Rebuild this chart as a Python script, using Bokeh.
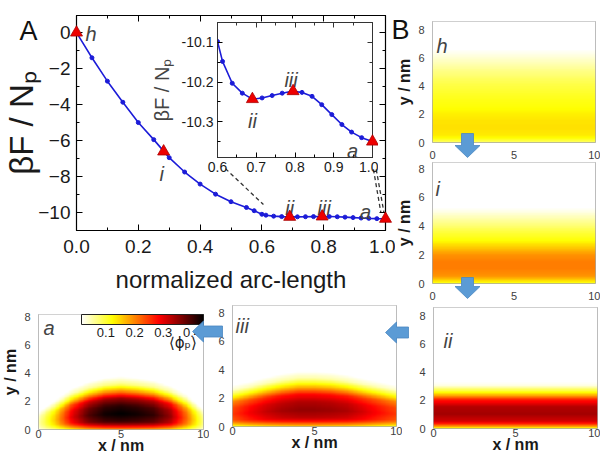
import numpy as np
from bokeh.plotting import figure
from bokeh.models import (Range1d, LinearAxis, FixedTicker, Label, ColorBar,
                          LinearColorMapper, PrintfTickFormatter)
from bokeh.embed import file_html
from bokeh.resources import INLINE

FONT = "Liberation Sans"

# ---------------- free-energy path (panel A) ----------------
arc = [0.0, 0.05, 0.1, 0.15, 0.2, 0.25, 0.3, 0.35, 0.4, 0.45, 0.5, 0.55, 0.575,
       0.6, 0.613, 0.638, 0.664, 0.69, 0.715, 0.741, 0.767, 0.792, 0.818, 0.844,
       0.869, 0.895, 0.921, 0.946, 0.972, 1.0]
free_energy = [0.0, -1.4, -2.7, -3.87, -5.0, -5.95, -6.95, -7.75, -8.42, -8.98,
               -9.4, -9.72, -9.9, -10.098, -10.148, -10.203, -10.228, -10.243,
               -10.24, -10.234, -10.228, -10.223, -10.226, -10.236, -10.257,
               -10.282, -10.307, -10.326, -10.34, -10.35]
state_names = ["h", "i", "ii", "iii", "a"]
state_arc = [0.0, 0.282, 0.69, 0.795, 1.0]
state_F = [0.0, -6.61, -10.243, -10.223, -10.35]

x_ticks_main = [0.0, 0.2, 0.4, 0.6, 0.8, 1.0]
y_ticks_main = [0, -2, -4, -6, -8, -10]
x_ticks_inset = [0.6, 0.7, 0.8, 0.9, 1.0]
y_ticks_inset = [-10.1, -10.2, -10.3]

# ---------------- density profiles (panel B and bottom row) ----------------
prof_y = [0, 0.25, 0.5, 1.0, 1.5, 2.0, 2.5, 3.0, 3.5, 4.0, 4.5, 5.0, 5.5, 6.0, 7.0, 8.6]
phi_h = [0.08, 0.12, 0.135, 0.142, 0.14, 0.132, 0.12, 0.114, 0.105, 0.095, 0.083,
         0.068, 0.05, 0.033, 0.004, 0.0]
phi_i = [0.11, 0.16, 0.19, 0.205, 0.205, 0.19, 0.155, 0.12, 0.1, 0.075, 0.05,
         0.025, 0.008, 0.0, 0.0, 0.0]
phi_ii = [0.12, 0.25, 0.31, 0.34, 0.33, 0.27, 0.13, 0.03, 0.004, 0.0, 0.0, 0.0,
          0.0, 0.0, 0.0, 0.0]
dome_shape = [0.45, 0.75, 0.92, 1.0, 0.95, 0.8, 0.45, 0.15, 0.03, 0.0, 0.0, 0.0,
              0.0, 0.0, 0.0, 0.0]
dome_x = [0, 1, 2, 3, 4, 5, 6, 7, 8, 9, 10]
amp_iii = [0.25, 0.29, 0.32, 0.34, 0.35, 0.35, 0.345, 0.335, 0.31, 0.28, 0.25]
scale_iii = [0.85, 0.92, 1.0, 1.07, 1.12, 1.12, 1.1, 1.05, 0.98, 0.92, 0.85]
amp_a = [0.05, 0.16, 0.3, 0.39, 0.43, 0.44, 0.43, 0.41, 0.35, 0.22, 0.07]
scale_a = [0.45, 0.65, 0.85, 0.97, 1.05, 1.08, 1.05, 1.0, 0.9, 0.75, 0.5]
cbar_ticks = [0.1, 0.2, 0.3, 0.4]

# rendering grid for the density maps
gx = np.linspace(0, 10, 200)
gy = np.linspace(0, 8.6, 172)


def band(profile):
    col = np.interp(gy, prof_y, profile)
    return np.tile(col[:, None], (1, gx.size))


def dome(amp, scale):
    A = np.interp(gx, dome_x, amp)
    S = np.interp(gx, dome_x, scale)
    return A[None, :] * np.interp(gy[:, None] / S[None, :], prof_y, dome_shape)


def hot_r(n=256):
    cols = []
    for k in range(n):
        t = 1 - k / (n - 1)
        r = min(1, t / 0.365)
        g = min(1, max(0, (t - 0.365) / 0.381))
        b = min(1, max(0, (t - 0.746) / 0.254))
        cols.append("#%02x%02x%02x" % (int(r * 255), int(g * 255), int(b * 255)))
    return cols


mapper = LinearColorMapper(palette=hot_r(), low=0.015, high=0.44)


def place(fig, left, top):
    fig.styles = {"position": "absolute", "left": f"{left}px", "top": f"{top}px"}


def inward(ax, major=6, minor=3):
    ax.major_tick_in = major
    ax.major_tick_out = 0
    ax.minor_tick_in = minor
    ax.minor_tick_out = 0


def mirror_axis(p, side, ticker, color, major, minor):
    ax = LinearAxis(ticker=ticker, major_label_text_font_size="1px",
                    major_label_text_color=None, major_label_standoff=0,
                    axis_line_color=color, major_tick_line_color=color,
                    minor_tick_line_color=color)
    inward(ax, major, minor)
    p.add_layout(ax, side)


roots = []

# ---------------- main plot A ----------------
BL, BT = 73, 15
pA = figure(frame_width=309, frame_height=215, x_range=Range1d(0, 1),
            y_range=Range1d(-11, 0.95), min_border_left=BL, min_border_top=BT,
            min_border_right=10, min_border_bottom=70, toolbar_location=None,
            output_backend="svg", outline_line_color="black", outline_line_width=1.2,
            border_fill_alpha=0)
pA.grid.visible = False
pA.xaxis.ticker = FixedTicker(ticks=x_ticks_main, minor_ticks=[0.1, 0.3, 0.5, 0.7, 0.9])
pA.yaxis.ticker = FixedTicker(ticks=y_ticks_main, minor_ticks=[-1, -3, -5, -7, -9, -11])
pA.xaxis.formatter = PrintfTickFormatter(format="%.1f")
for ax in (pA.xaxis[0], pA.yaxis[0]):
    inward(ax)
    ax.axis_line_color = "black"
    ax.major_label_text_font = FONT
    ax.major_label_text_font_size = "19px"
    ax.major_label_text_color = "#1a1a1a"
    ax.axis_label_text_font = FONT
    ax.axis_label_text_font_style = "normal"
    ax.axis_label_text_color = "#1a1a1a"
pA.xaxis.major_label_standoff = 9
pA.xaxis.axis_label = "normalized arc-length"
pA.xaxis.axis_label_text_font_size = "24px"
pA.xaxis.axis_label_standoff = 10
pA.yaxis.major_label_standoff = 6
pA.yaxis.axis_label = "βF / Nₚ"
pA.yaxis.axis_label_text_font_size = "33px"
pA.yaxis.axis_label_standoff = -5
mirror_axis(pA, "above", pA.xaxis.ticker, "black", 6, 3)
mirror_axis(pA, "right", pA.yaxis.ticker, "black", 6, 3)

pA.line(arc, free_energy, line_color="#1c1cd8", line_width=1.6)
pA.scatter(arc, free_energy, size=4, color="#1c1cd8")
# dashed connectors to the inset
pA.line([0.482, 0.605], [-7.56, -9.56], line_color="#333333", line_dash="4 3", line_width=1.3)
pA.line([0.961, 0.985], [-7.6, -10.0], line_color="#333333", line_dash="4 3", line_width=1.3)
pA.line([0.97, 0.995], [-7.6, -10.0], line_color="#333333", line_dash="4 3", line_width=1.3)
tri = pA.scatter(state_arc, state_F, marker="triangle", size=12, fill_color="#ee0000",
                 line_color="#aa0000", line_width=0.8)
tri.level = "overlay"
main_offsets = {"h": (9, -1, "left"), "i": (-2, -22, "center"), "ii": (0, 9, "center"),
                "iii": (2, 9, "center"), "a": (-20, 7, "center")}
for nm, xv, yv in zip(state_names, state_arc, state_F):
    dx, dy, al = main_offsets[nm]
    pA.add_layout(Label(x=xv, y=yv, x_offset=dx, y_offset=dy, text=nm, text_font=FONT,
                        text_font_style="italic", text_font_size="20px",
                        text_align=al, text_baseline="alphabetic"))
place(pA, 0, 0)
roots.append(pA)

# ---------------- inset ----------------
IL, IT = 70, 4
pI = figure(frame_width=155, frame_height=135, x_range=Range1d(0.6, 1.0),
            y_range=Range1d(-10.39, -10.05), min_border_left=IL, min_border_top=IT,
            min_border_right=6, min_border_bottom=24, toolbar_location=None,
            output_backend="svg", outline_line_color="#333333", border_fill_alpha=0,
            background_fill_color="white")
pI.grid.visible = False
pI.xaxis.ticker = FixedTicker(ticks=x_ticks_inset, minor_ticks=[0.65, 0.75, 0.85, 0.95])
pI.yaxis.ticker = FixedTicker(ticks=y_ticks_inset, minor_ticks=[-10.15, -10.25, -10.35])
pI.xaxis.formatter = PrintfTickFormatter(format="%.1f")
pI.yaxis.formatter = PrintfTickFormatter(format="%.1f")
for ax in (pI.xaxis[0], pI.yaxis[0]):
    inward(ax, 5, 3)
    ax.axis_line_color = "#333333"
    ax.major_label_text_font = FONT
    ax.major_label_text_font_size = "14px"
    ax.major_label_text_color = "#1a1a1a"
    ax.major_label_standoff = 4
    ax.axis_label_text_font = FONT
    ax.axis_label_text_font_style = "normal"
pI.yaxis.axis_label = "βF / Nₚ"
pI.yaxis.axis_label_text_font_size = "20px"
pI.yaxis.axis_label_standoff = 6
mirror_axis(pI, "above", pI.xaxis.ticker, "#333333", 5, 3)
mirror_axis(pI, "right", pI.yaxis.ticker, "#333333", 5, 3)
pI.line(arc, free_energy, line_color="#1c1cd8", line_width=1.6)
pI.scatter(arc, free_energy, size=4, color="#1c1cd8")
triI = pI.scatter(state_arc[2:], state_F[2:], marker="triangle", size=12,
                  fill_color="#ee0000", line_color="#aa0000", line_width=0.8)
triI.level = "overlay"
inset_offsets = {"ii": (0, -22), "iii": (-2, 11), "a": (-20, -9)}
for nm, xv, yv in zip(state_names[2:], state_arc[2:], state_F[2:]):
    dx, dy = inset_offsets[nm]
    pI.add_layout(Label(x=xv, y=yv, x_offset=dx, y_offset=dy, text=nm, text_font=FONT,
                        text_font_style="italic", text_font_size="20px",
                        text_align="center", text_baseline="alphabetic"))
place(pI, 217 - IL, 22 - IT)
roots.append(pI)


# ---------------- density maps ----------------
def heat_panel(field, fl, ft, fw, fh, ymax, tag, tag_dx, tag_dy, ylabel, xlabel, br=6):
    bl, bt = 44, 6
    bb = 34 if xlabel else 17
    p = figure(frame_width=fw, frame_height=fh, x_range=Range1d(0, 10),
               y_range=Range1d(0, ymax), min_border_left=bl, min_border_top=bt,
               min_border_right=br, min_border_bottom=bb, toolbar_location=None,
               output_backend="svg", border_fill_alpha=0, outline_line_color="#a6a6a6",
               background_fill_color="white")
    p.grid.visible = False
    p.image(image=[field], x=0, y=0, dw=10, dh=8.6, color_mapper=mapper)
    p.xaxis.ticker = FixedTicker(ticks=[0, 5, 10])
    p.yaxis.ticker = FixedTicker(ticks=[0, 2, 4, 6, 8])
    for ax in (p.xaxis[0], p.yaxis[0]):
        ax.axis_line_color = None
        ax.major_tick_line_color = None
        ax.minor_tick_line_color = None
        ax.major_label_text_font = FONT
        ax.major_label_text_font_size = "11px"
        ax.major_label_text_color = "#404040"
        ax.major_label_standoff = 2
        ax.axis_label_text_font = FONT
        ax.axis_label_text_font_style = "bold"
        ax.axis_label_text_font_size = "16px"
        ax.axis_label_text_color = "#1a1a1a"
    if ylabel:
        p.yaxis.axis_label = "y / nm"
        p.yaxis.axis_label_standoff = 2
    if xlabel:
        p.xaxis.major_label_standoff = -6
        p.xaxis.axis_label = "x / nm"
        p.xaxis.axis_label_standoff = -4
    p.add_layout(Label(x=0, y=ymax, x_offset=tag_dx, y_offset=-tag_dy, text=tag,
                       text_font=FONT, text_font_style="italic", text_font_size="20px",
                       text_align="left", text_baseline="alphabetic"))
    place(p, fl - bl, ft - bt)
    return p


pAa = heat_panel(dome(amp_a, scale_a), 38, 314, 165, 115, 8.2, "a", 5, 13, True, True)
pIII = heat_panel(dome(amp_iii, scale_iii), 232, 305, 164, 121, 8.5, "iii", 3, 20, False, True)
pII = heat_panel(band(phi_ii), 433, 307, 164, 121, 8.57, "ii", 10, 33, False, True, br=3)
pH = heat_panel(band(phi_h), 432, 21, 163, 121, 8.57, "h", 4, 24, True, False, br=5)
pIi = heat_panel(band(phi_i), 432, 162, 163, 121, 8.42, "i", 3, 26, True, False, br=5)

cb = ColorBar(color_mapper=mapper, orientation="horizontal", location="top_right",
              width=122, height=10, padding=0, margin=0,
              ticker=FixedTicker(ticks=cbar_ticks), major_label_text_font_size="13px",
              major_label_text_font=FONT, major_label_text_color="#1a1a1a",
              major_tick_line_color=None, minor_tick_line_color=None,
              bar_line_color="#222222", label_standoff=3, background_fill_alpha=0)
pAa.add_layout(cb)
pAa.add_layout(Label(x=9.6, y=6.2, text="⟨ϕₚ⟩", text_font="DejaVu Sans",
                     text_font_size="15px", text_align="right", text_baseline="middle",
                     text_color="#1a1a1a"))
roots += [pAa, pIII, pII, pH, pIi]

# ---------------- overlay: panel letters and arrows ----------------
pO = figure(frame_width=600, frame_height=456, x_range=Range1d(0, 600),
            y_range=Range1d(456, 0), min_border=0, toolbar_location=None,
            output_backend="svg", border_fill_alpha=0, background_fill_alpha=0,
            outline_line_color=None, x_axis_location=None, y_axis_location=None)
pO.grid.visible = False
arrow_color = "#5b9bd5"


def down_arrow(cx, top, tip, sw=12, hw=25, hl=12):
    xs = [cx - sw / 2, cx + sw / 2, cx + sw / 2, cx + hw / 2, cx, cx - hw / 2, cx - sw / 2]
    ys = [top, top, tip - hl, tip - hl, tip, tip - hl, tip - hl]
    return xs, ys


def left_arrow(cy, tail, tip, sw=11, hw=21, hl=11):
    xs = [tail, tail, tip + hl, tip + hl, tip, tip + hl, tip + hl]
    ys = [cy - sw / 2, cy + sw / 2, cy + sw / 2, cy + hw / 2, cy, cy - hw / 2, cy - sw / 2]
    return xs, ys


arrows = [down_arrow(467, 133, 157), down_arrow(467, 277, 298),
          left_arrow(332, 408, 385), left_arrow(331, 222, 192)]
pO.patches([a[0] for a in arrows], [a[1] for a in arrows], fill_color=arrow_color,
           line_color="#4a86c0", line_width=0.8)
pO.add_layout(Label(x=28, y=30, text="A", text_font=FONT, text_font_size="27px",
                    text_align="center", text_baseline="middle", text_color="#111111"))
pO.add_layout(Label(x=400, y=29, text="B", text_font=FONT, text_font_size="27px",
                    text_align="center", text_baseline="middle", text_color="#111111"))
place(pO, 0, 0)
roots.append(pO)

open("out.html", "w").write(file_html(roots, INLINE))
